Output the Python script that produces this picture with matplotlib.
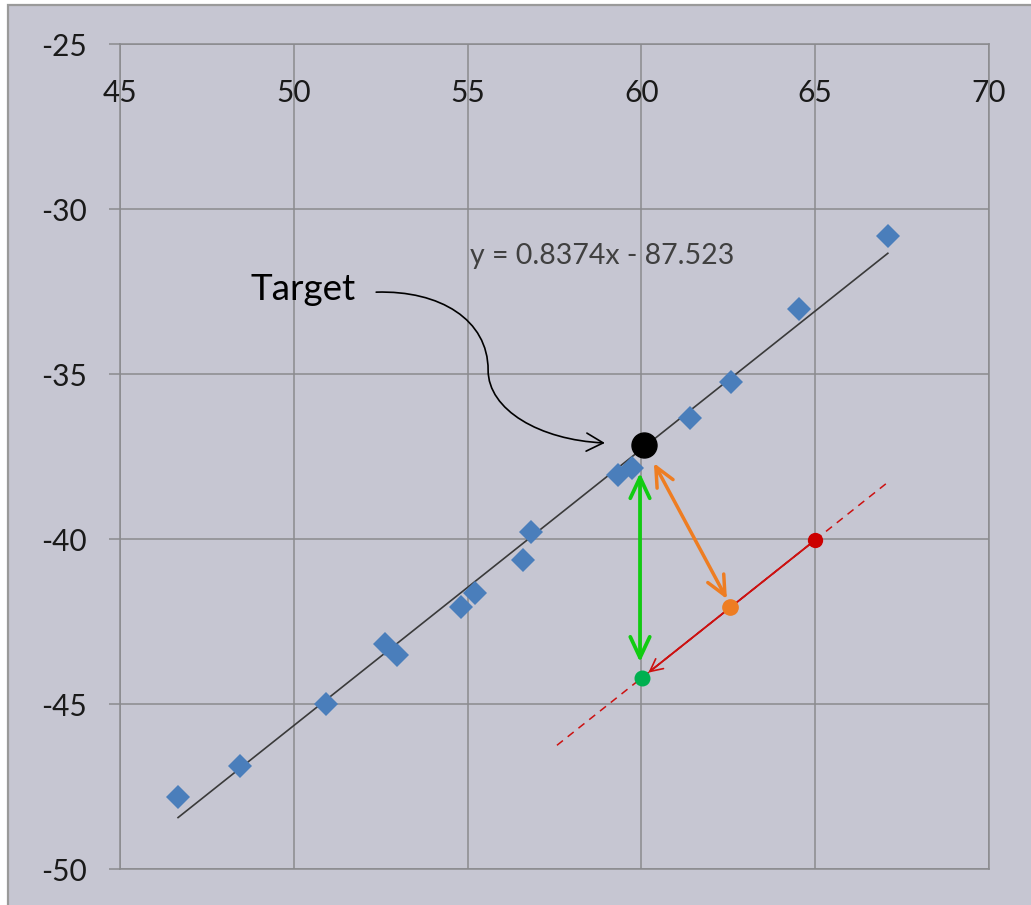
import matplotlib
matplotlib.use("Agg")
import matplotlib.pyplot as plt
from matplotlib.patches import FancyArrowPatch, Rectangle, ArrowStyle
from matplotlib.path import Path
import numpy as np

plt.rcParams['font.family'] = ['Lato', 'DejaVu Sans']

# ---- data ----
x_data = [46.67, 48.45, 50.93, 52.62, 52.97, 54.81, 55.21, 56.59, 56.82,
          59.33, 59.73, 61.40, 62.58, 64.53, 67.09]
y_data = [-47.82, -46.88, -45.00, -43.18, -43.52, -42.06, -41.64, -40.64, -39.79,
          -38.06, -37.85, -36.33, -35.24, -33.03, -30.82]
slope = 0.8374
intercept = -87.523
x_ticks = [45, 50, 55, 60, 65, 70]
y_ticks = [-50, -45, -40, -35, -30, -25]

target = (60.07, -37.15)
red_point = (65.0, -40.03)
orange_point = (62.55, -42.06)
green_point = (60.02, -44.2)
red_line_x = [57.57, 67.15]
red_arrow_end_x = 60.2
green_arrow = [(59.96, -38.0), (59.96, -43.73)]
orange_arrow = [(60.36, -37.70), (62.46, -41.82)]
target_label_pos = (48.74, -32.76)
target_curve = [(52.37, -32.52), (54.21, -32.46), (55.59, -33.36), (55.59, -34.88),
                (55.59, -36.09), (57.08, -37.0), (58.95, -37.09)]
eq_pos = (55.07, -31.43)

# ---- styles ----
bg = '#c6c6d2'
gridc = '#8a8a8e'

fig = plt.figure(figsize=(10.31, 9.05), dpi=100)
fig.patch.set_facecolor('white')
fig.patches.append(Rectangle((8/1031, -0.02), 1.05, 1 - 5/905 + 0.02,
                             transform=fig.transFigure, facecolor=bg,
                             edgecolor='#9a9a9a', lw=1.6, zorder=-10))

ax = fig.add_axes([120/1031, 1 - 869/905, (989 - 120)/1031, (869 - 44)/905])
ax.set_zorder(5)
ax.set_facecolor('none')
ax.set_xlim(45, 70)
ax.set_ylim(-50, -25)
ax.set_xticks(x_ticks)
ax.set_yticks(y_ticks)
ax.set_xticklabels([str(v) for v in x_ticks])
ax.set_yticklabels([str(v) for v in y_ticks])
ax.xaxis.tick_top()
ax.tick_params(axis='x', length=0, pad=-45, labelsize=21.5, labelcolor='#1a1a1a')
ax.tick_params(axis='y', length=8, width=1.1, color=gridc, pad=16, labelsize=21.5,
               labelcolor='#1a1a1a')
ax.grid(True, color=gridc, lw=1.1)
ax.set_axisbelow(True)
for s in ax.spines.values():
    s.set_color(gridc)
    s.set_linewidth(1.1)

# trendline
xt = np.array([min(x_data), max(x_data)])
ax.plot(xt, slope*xt + intercept, color='#3a3a3a', lw=1.2, zorder=2)
# data
ax.plot(x_data, y_data, linestyle='none', marker='D', ms=12, color='#4a7ebb',
        markeredgewidth=0, zorder=3)

# equation
ax.text(eq_pos[0], eq_pos[1], f"y = {slope}x - {abs(intercept)}", fontsize=20.5,
        color='#404040', ha='left', va='center', zorder=4)

# red parallel line
red_icpt = red_point[1] - slope*red_point[0]
rx = np.array(red_line_x)
ax.plot(rx, slope*rx + red_icpt, color='#cc1111', lw=1.1, ls=(0, (5, 4)), zorder=4)
ax.plot([red_arrow_end_x + 0.1, red_point[0]],
        [slope*(red_arrow_end_x + 0.1) + red_icpt, red_point[1]],
        color='#cc1111', lw=1.2, zorder=4.5)
red_end = (red_arrow_end_x, slope*red_arrow_end_x + red_icpt)
ax.add_patch(FancyArrowPatch(red_point, red_end,
             arrowstyle=ArrowStyle('->', head_length=9, head_width=4.5),
             mutation_scale=1, color='#cc1111', lw=1.2, shrinkA=0, shrinkB=0, zorder=5))

# green & orange double arrows
ax.add_patch(FancyArrowPatch(green_arrow[0], green_arrow[1],
             arrowstyle=ArrowStyle('<->', head_length=15, head_width=7),
             mutation_scale=1, color='#11cc11', lw=2.7, shrinkA=0, shrinkB=0, zorder=5))
ax.add_patch(FancyArrowPatch(orange_arrow[0], orange_arrow[1],
             arrowstyle=ArrowStyle('<->', head_length=14, head_width=6.5),
             mutation_scale=1, color='#ee7d22', lw=2.5, shrinkA=0, shrinkB=0, zorder=5))

# points
ax.plot(*red_point, marker='o', ms=10, color='#cc0000', zorder=6)
ax.plot(*orange_point, marker='o', ms=11, color='#ee7d22', zorder=6)
ax.plot(*green_point, marker='o', ms=10.5, color='#00b050', zorder=6)
ax.plot(*target, marker='o', ms=18, color='black', zorder=7)

# target label and curved arrow
ax.text(target_label_pos[0], target_label_pos[1], "Target", fontsize=26.5,
        color='black', ha='left', va='baseline', zorder=6)
codes = [Path.MOVETO] + [Path.CURVE4]*6
ax.add_patch(FancyArrowPatch(path=Path(target_curve, codes),
             arrowstyle=ArrowStyle('->', head_length=12, head_width=6.5),
             mutation_scale=1, color='black', lw=1.2, zorder=6))

fig.savefig('out.png', dpi=100)
